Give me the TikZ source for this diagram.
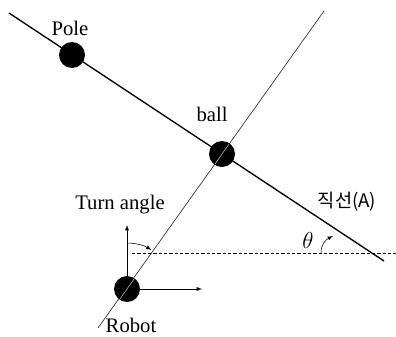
\documentclass[tikz,border=0pt]{standalone}
\usepackage{fontspec}
\setmainfont{Liberation Serif}
\newfontfamily\krfont{Noto Sans CJK KR}
\usetikzlibrary{positioning,calc,arrows}
\tikzset{>=latex}
\tikzset{ballnode/.style={circle, fill=black, inner sep=0pt, minimum size=19.5pt}}
\tikzset{lbl/.style={font=\fontsize{15.5}{18}\selectfont, inner sep=1pt}}

\begin{document}
\begin{tikzpicture}[x=0.75pt,y=-0.75pt]
  \useasboundingbox (0,0) rectangle (396,336);
  % line (A) through the pole and the ball
  \coordinate (aStart) at (9,13);
  \coordinate (aEnd) at (384,261);
  \draw[line width=1pt] (aStart) -- (aEnd);
  % line from the robot through the ball
  \coordinate (bTop) at (324,11);
  \coordinate (bBot) at (98,328);
  \draw[line width=0.5pt, black!80] (bBot) -- (bTop);
  % balls
  \node[ballnode] (pole) at (72,55) {};
  \node[ballnode] (ball) at (222,154) {};
  \node[ballnode] (robot) at (127,289) {};
  \draw[line width=0.4pt, black!25] ($(robot)!9pt!(ball)$) -- ($(robot)!-9pt!(ball)$);
  \draw[line width=0.4pt, black!25] ($(ball)!9pt!(robot)$) -- ($(ball)!-9pt!(robot)$);
  % robot heading axes
  \coordinate (upTip) at (127,225);
  \coordinate (rightTip) at (202,289);
  \draw[->, thin] (robot.north) -- (upTip);
  \draw[->, thin] (robot.east) -- (rightTip);
  \draw[->, thin] (127,243) arc[start angle=-90, end angle=-58, radius=46];
  % horizontal reference
  \coordinate (hStart) at (132,253);
  \coordinate (hEnd) at (396,253);
  \draw[thin, dash pattern=on 2.5pt off 1.5pt] (hStart) -- (hEnd);
  \draw[->, thin] (321,253) .. controls (321,245) and (325,240) .. (333,236);
  % labels
  \node[lbl] (poleLbl) at (70,28) {Pole};
  \node[lbl] (ballLbl) at (212,114) {ball};
  \node[lbl] (turnLbl) at (120,205) {Turn angle};
  \node[lbl] (robotLbl) at (131,325) {Robot};
  \node[lbl] (lineLbl) at (347,202) {\krfont\fontsize{14}{16}\selectfont 직선(A)};
  \node[lbl] (thetaLbl) at (308,240) {\fontsize{18}{20}\selectfont$\theta$};
\end{tikzpicture}
\end{document}
